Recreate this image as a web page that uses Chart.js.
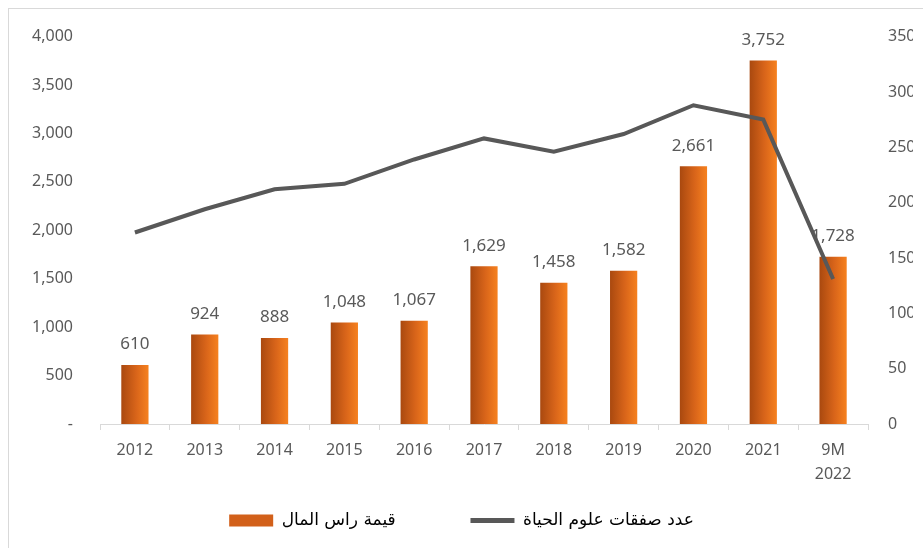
<!DOCTYPE html>
<html>
<head>
<meta charset="utf-8">
<script src="https://cdn.jsdelivr.net/npm/chart.js@4.4.1/dist/chart.umd.min.js"></script>
<style>
  html, body { margin: 0; padding: 0; background: #fff; overflow: hidden; }
  #wrap { position: relative; width: 923px; height: 548px; }
  #frame { position: absolute; left: 8px; top: 8px; width: 930px; height: 560px; border: 1px solid #d9d9d9; box-sizing: border-box; }
  #chart { position: absolute; left: 0; top: 0; }
</style>
</head>
<body>
<div id="wrap">
  <div id="frame"></div>
  <canvas id="chart" width="923" height="548"></canvas>
</div>
<script>
// years on the x axis
const years = ["2012", "2013", "2014", "2015", "2016", "2017", "2018", "2019", "2020", "2021", ["9M", "2022"]];
// capital raised (left axis)
const capitalValues = [610, 924, 888, 1048, 1067, 1629, 1458, 1582, 2661, 3752, 1728];
// number of life sciences deals (right axis)
const dealCounts = [173, 194, 212, 217, 239, 258, 246, 262, 288, 275, 131];

const capitalLabel = "قيمة راس المال";
const dealsLabel = "عدد صفقات علوم الحياة";

const tickFont = { family: "'Noto Sans', 'DejaVu Sans', sans-serif", size: 16 };
const greyText = "#595959";

// bar fill: dark brown on the left edge to bright orange on the right
function barGradient(context) {
  const chart = context.chart;
  if (!chart.chartArea || context.type !== "data") return "#d8661a";
  const cx = chart.scales.x.getPixelForValue(context.dataIndex);
  const g = chart.ctx.createLinearGradient(cx - 14, 0, cx + 14, 0);
  g.addColorStop(0, "#a8480f");
  g.addColorStop(0.55, "#d9651a");
  g.addColorStop(1, "#f7821f");
  return g;
}

// value labels above the bars, drawn before the line so the line passes over them
const barValueLabels = {
  id: "barValueLabels",
  afterDatasetDraw(chart, args) {
    if (args.index !== 0) return;
    const ctx = chart.ctx;
    ctx.save();
    ctx.font = "17px 'Noto Sans', 'DejaVu Sans', sans-serif";
    ctx.fillStyle = greyText;
    ctx.textAlign = "center";
    ctx.textBaseline = "bottom";
    args.meta.data.forEach((bar, i) => {
      ctx.fillText(capitalValues[i].toLocaleString("en-US"), bar.x, bar.y - 12);
    });
    ctx.restore();
  }
};

new Chart(document.getElementById("chart"), {
  data: {
    labels: years,
    datasets: [
      {
        type: "bar",
        label: capitalLabel,
        data: capitalValues,
        yAxisID: "y",
        backgroundColor: barGradient,
        barPercentage: 0.78,
        categoryPercentage: 0.5,
        order: 1
      },
      {
        type: "line",
        label: dealsLabel,
        data: dealCounts,
        yAxisID: "y1",
        borderColor: "#585858",
        borderWidth: 4,
        pointRadius: 0,
        tension: 0,
        order: 0
      }
    ]
  },
  options: {
    responsive: false,
    animation: false,
    layout: { padding: { top: 30, left: 10, right: 10, bottom: 9 } },
    plugins: {
      tooltip: { enabled: false },
      legend: {
        position: "bottom",
        labels: {
          usePointStyle: true,
          pointStyleWidth: 44,
          boxHeight: 12,
          padding: 10,
          color: "#262626",
          font: { family: "'DejaVu Sans', sans-serif", size: 17 },
          generateLabels() {
            return [
              {
                // trailing spaces keep the gap between the two legend entries
                text: capitalLabel + "\u00a0".repeat(12),
                fillStyle: "#d2601a",
                strokeStyle: "#d2601a",
                lineWidth: 0,
                pointStyle: "rect",
                datasetIndex: 0
              },
              {
                text: dealsLabel,
                fillStyle: "#585858",
                strokeStyle: "#585858",
                lineWidth: 5,
                pointStyle: "line",
                datasetIndex: 1
              }
            ];
          }
        }
      }
    },
    scales: {
      x: {
        grid: { display: true, drawOnChartArea: false, drawTicks: true, tickLength: 6, color: "#d9d9d9" },
        border: { color: "#d9d9d9" },
        ticks: { color: greyText, font: { ...tickFont, lineHeight: 1.5 }, padding: 8, maxRotation: 0 },
        afterFit(scale) { scale.height = 78; }
      },
      y: {
        position: "left",
        min: 0,
        max: 4000,
        grid: { display: false, drawTicks: false },
        border: { display: false },
        ticks: {
          stepSize: 500,
          color: greyText,
          font: tickFont,
          padding: 27,
          callback: v => (v === 0 ? "-" : v.toLocaleString("en-US"))
        },
        afterFit(scale) { scale.width = 90; }
      },
      y1: {
        position: "right",
        min: 0,
        max: 350,
        grid: { display: false, drawTicks: false },
        border: { display: false },
        ticks: { stepSize: 50, color: greyText, font: tickFont, padding: 20 },
        afterFit(scale) { scale.width = 45; }
      }
    }
  },
  plugins: [barValueLabels]
});
</script>
</body>
</html>
